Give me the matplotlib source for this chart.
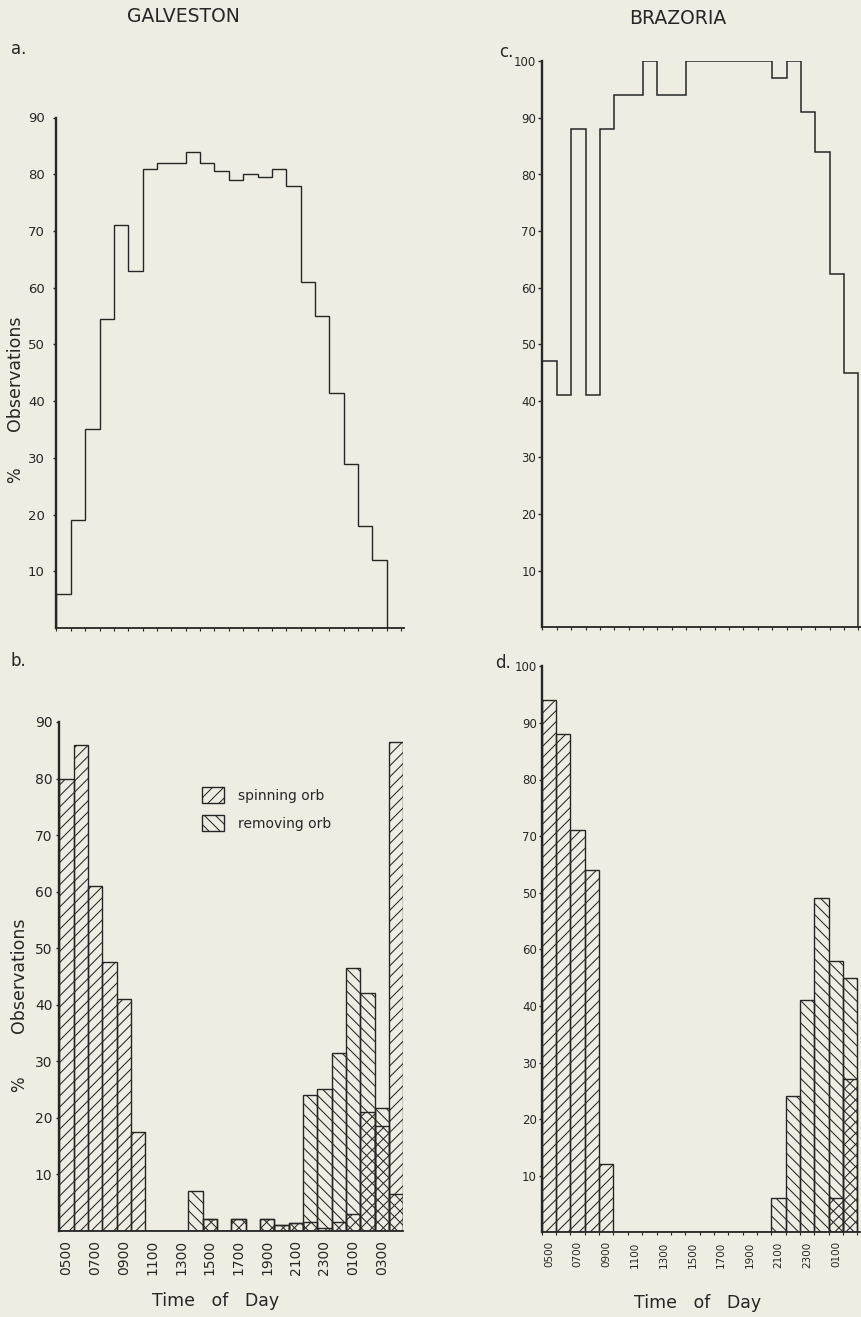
import numpy as np
import matplotlib
matplotlib.use('Agg')
import matplotlib.pyplot as plt

# hourly bins, 0500 through 0400
hours = ['0500', '0600', '0700', '0800', '0900', '1000', '1100', '1200',
         '1300', '1400', '1500', '1600', '1700', '1800', '1900', '2000',
         '2100', '2200', '2300', '0000', '0100', '0200', '0300', '0400']

# a. Galveston - % observations (on web)
galv_obs = [6, 19, 35, 54.5, 71, 63, 81, 82, 82, 84, 82, 80.5,
            79, 80, 79.5, 81, 78, 61, 55, 41.5, 29, 18, 12, 0]

# b. Galveston - spinning / removing orb
galv_spin = [80, 86, 61, 47.5, 41, 17.5, 0, 0, 0, 0, 2, 0,
             2, 0, 2, 1, 1.3, 1.5, 0.5, 1.5, 3, 21, 18.5, 86.5]
galv_remove = [0, 0, 0, 0, 0, 0, 0, 0, 0, 7, 2, 0,
               2, 0, 2, 1, 1.3, 24, 25, 31.5, 46.5, 42, 21.7, 6.5]

# c. Brazoria - % observations (figure is cut off after 0200)
braz_obs = [47, 41, 88, 41, 88, 94, 94, 100, 94, 94, 100, 100,
            100, 100, 100, 100, 97, 100, 91, 84, 62.5, 45]

# d. Brazoria - spinning / removing orb
braz_spin = [94, 88, 71, 64, 12, 0, 0, 0, 0, 0, 0, 0,
             0, 0, 0, 0, 0, 0, 0, 0, 6, 27]
braz_remove = [0, 0, 0, 0, 0, 0, 0, 0, 0, 0, 0, 0,
               0, 0, 0, 0, 6, 24, 41, 59, 48, 45]

ab_yticks = [10, 20, 30, 40, 50, 60, 70, 80, 90]
cd_yticks = [10, 20, 30, 40, 50, 60, 70, 80, 90, 100]
d_yticklabels = ['10', '20', '30', '40', '60', '50', '70', '80', '90', '100']  # as printed

bg = '#efede3'
ink = '#262626'
spin_hatch = '///'
remove_hatch = '\\\\\\'
plt.rcParams['hatch.linewidth'] = 0.75
plt.rcParams['font.family'] = ['DejaVu Sans']

W, H = 862, 1317
fig = plt.figure(figsize=(W / 100, H / 100), dpi=100, facecolor=bg)


def px_axes(x0, x1, y_top, y_bot):
    return fig.add_axes([x0 / W, 1 - y_bot / H, (x1 - x0) / W, (y_bot - y_top) / H])


def style(ax, ymax, xmax):
    ax.set_facecolor('none')
    for s in ['top', 'right']:
        ax.spines[s].set_visible(False)
    ax.spines['left'].set_linewidth(1.7)
    ax.spines['bottom'].set_linewidth(1.3)
    ax.spines['left'].set_color(ink)
    ax.spines['bottom'].set_color(ink)
    ax.set_ylim(0, ymax)
    ax.set_xlim(0, xmax)


# ---- a. Galveston
ax_a = px_axes(56.5, 404, 117.5, 628)
style(ax_a, 90, 24.2)
ax_a.stairs(galv_obs[:23], np.arange(24), baseline=0, color=ink, lw=1.0)
ax_a.set_yticks(ab_yticks)
ax_a.tick_params(axis='y', length=2, width=1, pad=6.5, labelsize=9.5, colors=ink)
ax_a.set_xticks(np.arange(0, 25), minor=True)
ax_a.set_xticks([])
ax_a.tick_params(axis='x', which='minor', length=2.5, width=0.8, colors=ink)

# ---- c. Brazoria
ax_c = px_axes(542.5, 862, 61.3, 627.3)
style(ax_c, 100, 22.26)
ax_c.stairs(braz_obs, np.arange(len(braz_obs) + 1), baseline=0, color=ink, lw=1.1)
ax_c.set_yticks(cd_yticks)
ax_c.tick_params(axis='y', length=3, width=1, pad=1.5, labelsize=8.5, colors=ink)
ax_c.set_xticks(np.arange(0, 23), minor=True)
ax_c.set_xticks([])
ax_c.tick_params(axis='x', which='minor', length=2.5, width=0.8, colors=ink)

# ---- b. Galveston spinning/removing
ax_b = px_axes(59.3, 403.3, 722, 1230.7)
style(ax_b, 90, 24)
x_b = np.arange(len(galv_spin))
ax_b.bar(x_b, galv_remove, width=1, align='edge', facecolor='none',
         edgecolor=ink, lw=1.0, hatch=remove_hatch, label='removing orb')
ax_b.bar(x_b, galv_spin, width=1, align='edge', facecolor='none',
         edgecolor=ink, lw=1.0, hatch=spin_hatch, label='spinning orb')
ax_b.set_yticks(ab_yticks)
ax_b.tick_params(axis='y', length=2, width=1, pad=3, labelsize=10, colors=ink)
ax_b.set_xticks(np.arange(0, 24, 2) + 0.5)
ax_b.set_xticklabels(hours[::2], rotation=90, fontsize=10)
ax_b.tick_params(axis='x', length=0, pad=6.5, colors=ink)
h, l = ax_b.get_legend_handles_labels()
ax_b.legend(h[::-1], l[::-1], loc='upper left', bbox_to_anchor=(0.395, 0.885),
            frameon=False, borderpad=0, handlelength=1.6, handleheight=1.4,
            handletextpad=1.0, labelspacing=0.85, fontsize=10, labelcolor=ink)

# ---- d. Brazoria spinning/removing
ax_d = px_axes(541.7, 862, 666.3, 1232.3)
style(ax_d, 100, 22.32)
x_d = np.arange(len(braz_spin))
ax_d.bar(x_d, braz_remove, width=1, align='edge', facecolor='none',
         edgecolor=ink, lw=1.0, hatch=remove_hatch)
ax_d.bar(x_d, braz_spin, width=1, align='edge', facecolor='none',
         edgecolor=ink, lw=1.0, hatch=spin_hatch)
ax_d.set_yticks(cd_yticks)
ax_d.set_yticklabels(d_yticklabels)
ax_d.tick_params(axis='y', length=2.5, width=1, pad=1, labelsize=8.5, colors=ink)
d_hours = hours[:22:2]  # 0300 falls outside the cropped frame
ax_d.set_xticks(np.arange(0, 22, 2) + 0.5)
ax_d.set_xticklabels(d_hours, rotation=90, fontsize=7.5)
ax_d.tick_params(axis='x', length=0, pad=6.5, colors=ink)
ax_d.set_xticks(np.arange(0, 23), minor=True)
ax_d.tick_params(axis='x', which='minor', length=2, width=0.8, colors=ink)

# ---- titles and labels
fig.text(183 / W, 1 - 16 / H, 'GALVESTON', fontsize=13.5, color=ink, ha='center', va='center')
fig.text(678 / W, 1 - 19 / H, 'BRAZORIA', fontsize=13.5, color=ink, ha='center', va='center')
fig.text(19 / W, 1 - 49 / H, 'a.', fontsize=12, color=ink, ha='center', va='center')
fig.text(18 / W, 1 - 661 / H, 'b.', fontsize=12, color=ink, ha='center', va='center')
fig.text(506 / W, 1 - 52 / H, 'c.', fontsize=12, color=ink, ha='center', va='center')
fig.text(503 / W, 1 - 663 / H, 'd.', fontsize=12, color=ink, ha='center', va='center')

for yc_obs, yc_pct, xc in [(373, 475, 15), (975, 1084, 19)]:
    fig.text(xc / W, 1 - yc_obs / H, 'Observations', fontsize=12.5, color=ink,
             rotation=90, ha='center', va='center')
    fig.text(xc / W, 1 - yc_pct / H, '%', fontsize=12, color=ink,
             rotation=90, ha='center', va='center')

fig.text(216 / W, 1 - 1301 / H, 'Time   of   Day', fontsize=12.5, color=ink, ha='center', va='center')
fig.text(698 / W, 1 - 1303 / H, 'Time   of   Day', fontsize=12.5, color=ink, ha='center', va='center')

fig.savefig('out.png', dpi=100, facecolor=bg)
